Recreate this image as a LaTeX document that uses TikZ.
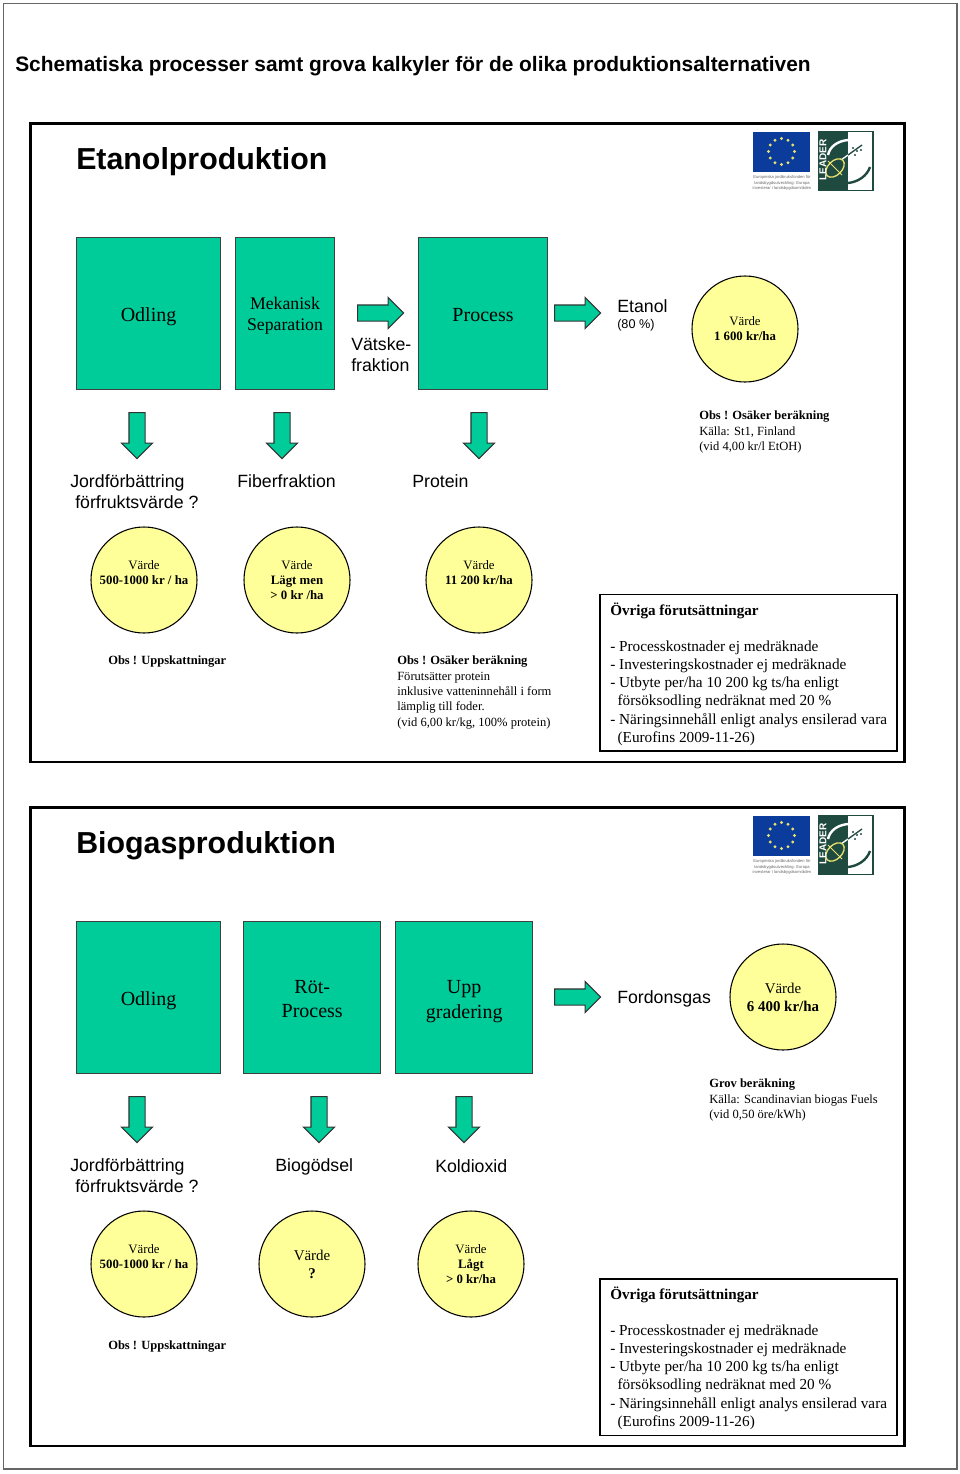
\documentclass[tikz,border=0pt]{standalone}
\usepackage{fontspec}
\setmainfont{Liberation Serif}
\setsansfont{Liberation Sans}
\usetikzlibrary{shapes.arrows}
\definecolor{BoxGreen}{HTML}{00CC99}
\definecolor{ValueYellow}{HTML}{FFFF99}
\definecolor{EuBlue}{HTML}{0B3C9C}
\definecolor{LeaderGreen}{HTML}{1F4A40}
\definecolor{SeedYellow}{HTML}{E8E070}
\tikzset{
  procbox/.style={draw=black!75, line width=0.8pt, fill=BoxGreen, anchor=north west, inner sep=0pt, align=center, minimum height=114pt, font=\fontsize{15pt}{18.2pt}\selectfont},
  valuecircle/.style={circle, draw=black, line width=0.8pt, fill=ValueYellow, minimum size=79.5pt, inner sep=0pt, align=center, font=\fontsize{9.6pt}{11.4pt}\selectfont},
  rightarrow/.style={single arrow, draw=black!80, line width=0.8pt, fill=BoxGreen, inner sep=0pt, anchor=tail, text height=11.25pt, text depth=0pt, minimum height=34.5pt, single arrow head extend=5.6pt, single arrow head indent=0pt},
  downarrow/.style={rightarrow, rotate=-90},
  bigtitle/.style={anchor=west, inner sep=0pt, font=\fontsize{22.75pt}{28pt}\selectfont\sffamily\bfseries},
  sanslabel/.style={anchor=west, inner sep=0pt, align=left, font=\fontsize{13.3pt}{15.8pt}\selectfont\sffamily},
  notetext/.style={anchor=north west, inner sep=0pt, align=left, font=\fontsize{9.4pt}{11.5pt}\selectfont},
  condtext/.style={anchor=north west, inner sep=0pt, align=left, font=\fontsize{11.45pt}{13.65pt}\selectfont},
  panelframe/.style={draw=black, line width=2.2pt},
  condframe/.style={draw=black, line width=1.1pt}
}
\begin{document}
\begin{tikzpicture}[x=0.75pt, y=-0.75pt]
  \useasboundingbox (0,0) rectangle (960,1474);
  % 1. Page frame and heading
  \draw[color=black!60, line width=1.1pt] (3.5,3.5) rectangle (957,1469);
  \node[anchor=west, inner sep=0pt, font=\fontsize{15.67pt}{18pt}\selectfont\sffamily\bfseries] (heading) at (15,66)
    {Schematiska processer samt grova kalkyler för de olika produktionsalternativen};

  % 2. The two logo pairs
  \foreach \yy [count=\n] in {0,684}{
    \begin{scope}[yshift=-0.75pt*\yy]
      \fill[EuBlue] (753,131.5) rectangle (810,171.5);
      \foreach \a in {0,30,...,330}
        \fill[SeedYellow] ({781.5+13*cos(\a)},{151.5+13*sin(\a)}) circle (1.6);
      \node[inner sep=0pt, align=center, color=black!60, font=\fontsize{3.1pt}{3.9pt}\selectfont\sffamily] (eutext\n) at (782,183)
        {Europeiska jordbruksfonden för\\landsbygdsutveckling: Europa\\investerar i landsbygdsområden};
      \fill[LeaderGreen] (818,131) rectangle (848,191);
      \draw[LeaderGreen, line width=1pt] (848,131.5) -- (873,131.5) -- (873,190.5) -- (848,190.5);
      \draw[white, line width=1.8pt] (828,155) .. controls (830,146) and (838,141) .. (848,140);
      \draw[LeaderGreen, line width=1.8pt] (870,167) .. controls (867,176) and (858,182) .. (848,183);
      \draw[white, line width=1pt] (841,160) -- (848,155);
      \draw[LeaderGreen, line width=1pt] (848,155) -- (862,145);
      \foreach \px/\py in {853/148, 857/151, 861/150, 855/155}
        \fill[LeaderGreen] (\px,\py) circle (1.2);
      \draw[SeedYellow, fill=LeaderGreen, line width=1pt, rotate around={45:(835,168)}] (835,168) ellipse (11 and 7);
      \draw[SeedYellow, line width=0.6pt] (828,161) -- (842,175);
      \node[rotate=90, inner sep=0pt, color=white, font=\fontsize{7.5pt}{8pt}\selectfont\sffamily\bfseries] (leadertext\n) at (823,160) {LEADER};
    \end{scope}
  }

  % -------------------------------------------------------------
  % ETANOL PANEL
  % -------------------------------------------------------------
  \draw[panelframe] (30.5,123.5) rectangle (904.5,762);
  \node[bigtitle] (etitle) at (76,162) {Etanolproduktion};

  % Process boxes
  \node[procbox, minimum width=108pt] (eodling) at (76,237) {\rule{0pt}{14.8pt}Odling};
  \node[procbox, minimum width=74.25pt, font=\fontsize{13.3pt}{15.8pt}\selectfont] (emek) at (235,237) {\rule{0pt}{12.1pt}Mekanisk\\Separation};
  \node[procbox, minimum width=96.75pt] (eprocess) at (418,237) {\rule{0pt}{11.8pt}Process};

  % Block arrows
  \node[rightarrow] (earrowa) at (357,313) {};
  \node[rightarrow] (earrowb) at (554,313) {};
  \node[downarrow] (edowna) at (137,412) {};
  \node[downarrow] (edownb) at (282,412) {};
  \node[downarrow] (edownc) at (479,412) {};

  % Labels
  \node[sanslabel] (evatske) at (351,354.5) {Vätske-\\fraktion};
  \node[sanslabel] (eetanol) at (617,306.5) {Etanol};
  \node[sanslabel, font=\fontsize{9.5pt}{11pt}\selectfont\sffamily] (eprocent) at (617,325) {(80 \%)};
  \node[sanslabel] (ejord) at (70,482.5) {Jordförbättring};
  \node[sanslabel] (efrukt) at (75,502.5) {förfruktsvärde ?};
  \node[sanslabel] (efiber) at (237,481.5) {Fiberfraktion};
  \node[sanslabel] (eprotein) at (412,481.5) {Protein};

  % Value circles
  \node[valuecircle] (evalueeta) at (745,329) {Värde\\\textbf{1 600 kr/ha}};
  \node[valuecircle] (evaluejord) at (144,580) {Värde\\\textbf{500-1000 kr / ha}\\\phantom{x}};
  \node[valuecircle] (evaluefiber) at (297,580) {Värde\\\textbf{Lägt men}\\\textbf{> 0 kr /ha}};
  \node[valuecircle] (evalueprot) at (479,580) {Värde\\\textbf{11 200 kr/ha}\\\phantom{x}};

  % Notes
  \node[notetext] (enoteeta) at (699,411) {\textbf{Obs ! Osäker beräkning}\\Källa: St1, Finland\\(vid 4,00 kr/l EtOH)};
  \node[notetext] (enotejord) at (108,656) {\textbf{Obs ! Uppskattningar}};
  \node[notetext] (enoteprot) at (397,656) {\textbf{Obs ! Osäker beräkning}\\Förutsätter protein\\inklusive vatteninnehåll i form\\lämplig till foder.\\(vid 6,00 kr/kg, 100\% protein)};

  % Conditions box
  \draw[condframe] (600,594.5) rectangle (897,751);
  \node[condtext, font=\fontsize{11.35pt}{13.65pt}\selectfont\bfseries] (econdhead) at (610,603) {Övriga förutsättningar};
  \node[condtext] (econd) at (610,640.5) {- Processkostnader ej medräknade\\- Investeringskostnader ej medräknade\\- Utbyte per/ha 10 200 kg ts/ha enligt\\\hspace*{5.5pt}försöksodling nedräknat med 20 \%\\- Näringsinnehåll enligt analys ensilerad vara\\\hspace*{5.5pt}(Eurofins 2009-11-26)};

  % -------------------------------------------------------------
  % BIOGAS PANEL
  % -------------------------------------------------------------
  \draw[panelframe] (30.5,807.5) rectangle (904.5,1446);
  \node[bigtitle] (btitle) at (76,846) {Biogasproduktion};

  % Process boxes
  \node[procbox, minimum width=108pt] (bodling) at (76,921) {\rule{0pt}{14.8pt}Odling};
  \node[procbox, minimum width=103pt] (brot) at (243,921) {\rule{0pt}{12pt}Röt-\\Process};
  \node[procbox, minimum width=103pt] (bupp) at (395,921) {\rule{0pt}{16pt}Upp\\gradering};

  % Block arrows
  \node[rightarrow] (barrow) at (554,997) {};
  \node[downarrow] (bdowna) at (137,1096) {};
  \node[downarrow] (bdownb) at (319,1096) {};
  \node[downarrow] (bdownc) at (464,1096) {};

  % Labels
  \node[sanslabel] (bfordon) at (617,999) {Fordonsgas};
  \node[sanslabel] (bjord) at (70,1166.5) {Jordförbättring};
  \node[sanslabel] (bfrukt) at (75,1186.5) {förfruktsvärde ?};
  \node[sanslabel] (bgodsel) at (275,1166.5) {Biogödsel};
  \node[sanslabel] (bkol) at (435,1166) {Koldioxid};

  % Value circles
  \node[valuecircle, font=\fontsize{11.2pt}{13.5pt}\selectfont] (bvaluegas) at (783,997) {Värde\\\textbf{6 400 kr/ha}};
  \node[valuecircle] (bvaluejord) at (144,1264) {Värde\\\textbf{500-1000 kr / ha}\\\phantom{x}};
  \node[valuecircle, font=\fontsize{11.2pt}{13.5pt}\selectfont] (bvaluegod) at (312,1264) {Värde\\\textbf{?}};
  \node[valuecircle] (bvaluekol) at (471,1264) {Värde\\\textbf{Lågt}\\\textbf{> 0 kr/ha}};

  % Notes
  \node[notetext] (bnotegas) at (709,1079) {\textbf{Grov beräkning}\\Källa: Scandinavian biogas Fuels\\(vid 0,50 öre/kWh)};
  \node[notetext] (bnotejord) at (108,1341) {\textbf{Obs ! Uppskattningar}};

  % Conditions box
  \draw[condframe] (600,1279) rectangle (897,1435.5);
  \node[condtext, font=\fontsize{11.35pt}{13.65pt}\selectfont\bfseries] (bcondhead) at (610,1287) {Övriga förutsättningar};
  \node[condtext] (bcond) at (610,1324.5) {- Processkostnader ej medräknade\\- Investeringskostnader ej medräknade\\- Utbyte per/ha 10 200 kg ts/ha enligt\\\hspace*{5.5pt}försöksodling nedräknat med 20 \%\\- Näringsinnehåll enligt analys ensilerad vara\\\hspace*{5.5pt}(Eurofins 2009-11-26)};
\end{tikzpicture}
\end{document}
